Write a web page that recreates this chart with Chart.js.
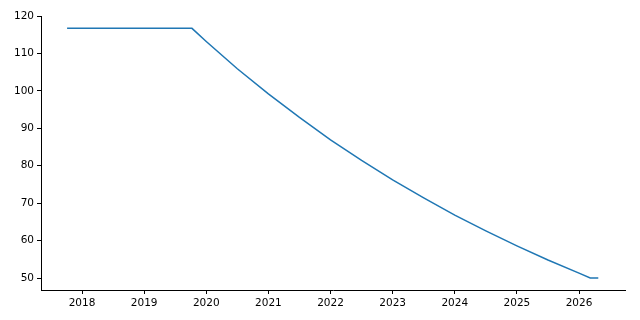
<!DOCTYPE html>
<html>
<head>
<meta charset="utf-8">
<script src="https://cdn.jsdelivr.net/npm/chart.js@4"></script>
<style>
  html, body { margin: 0; padding: 0; background: #fff; }
  #wrap { width: 640px; height: 320px; }
</style>
</head>
<body>
<div id="wrap"><canvas id="lineChart" width="640" height="320"></canvas></div>
<script>
// Values
const years = [2017.76, 2019.77, 2020.0, 2020.5, 2021.0, 2021.5, 2022.0, 2022.5, 2023.0,
               2023.5, 2024.0, 2024.5, 2025.0, 2025.5, 2026.0, 2026.18, 2026.31];
const values = [116.7, 116.7, 113.2, 105.9, 99.2, 92.9, 86.9, 81.4, 76.2,
                71.4, 66.8, 62.6, 58.6, 54.8, 51.3, 50.0, 50.0];

const xTicks = [2018, 2019, 2020, 2021, 2022, 2023, 2024, 2025, 2026];
const yTicks = [50, 60, 70, 80, 90, 100, 110, 120];

const axisFont = { family: "'DejaVu Sans', sans-serif", size: 10.5 };

new Chart(document.getElementById('lineChart'), {
    type: 'line',
    data: {
        datasets: [{
            data: years.map((y, i) => ({ x: y, y: values[i] })),
            borderColor: '#1f77b4',
            borderWidth: 1.5,
            pointRadius: 0,
            tension: 0,
            fill: false
        }]
    },
    options: {
        responsive: false,
        animation: false,
        layout: { padding: { left: 0, top: 16, right: 15, bottom: 0 } },
        plugins: { legend: { display: false }, tooltip: { enabled: false } },
        scales: {
            x: {
                type: 'linear',
                min: 2017.34,
                max: 2026.74,
                afterBuildTicks: scale => { scale.ticks = xTicks.map(v => ({ value: v })); },
                afterFit: scale => { scale.height = 30; },
                border: { display: true, color: '#000', width: 1 },
                grid: { drawOnChartArea: false, tickLength: 4, color: '#000' },
                ticks: { color: '#000', font: axisFont, padding: 3, maxRotation: 0,
                         callback: v => String(v) }
            },
            y: {
                min: 46.8,
                max: 120,
                afterBuildTicks: scale => { scale.ticks = yTicks.map(v => ({ value: v })); },
                afterFit: scale => { scale.width = 41; },
                border: { display: true, color: '#000', width: 1 },
                grid: { drawOnChartArea: false, tickLength: 4, color: '#000' },
                ticks: { color: '#000', font: axisFont, padding: 3 }
            }
        }
    }
});
</script>
</body>
</html>
